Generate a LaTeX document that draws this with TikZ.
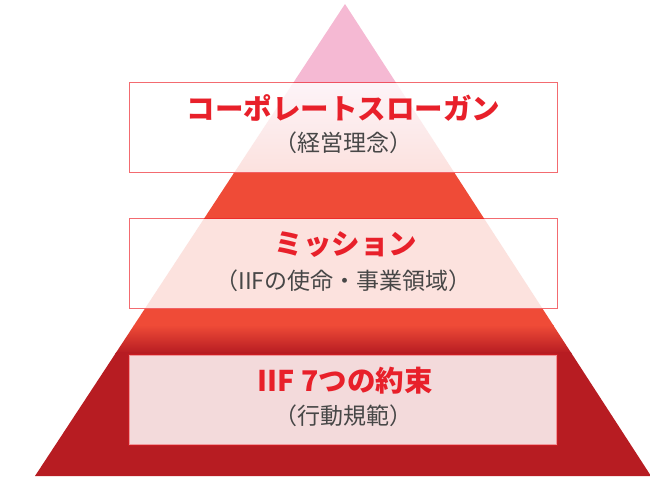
\documentclass[tikz,border=0pt]{standalone}
\usepackage{fontspec}
\newfontfamily\jp{Noto Sans CJK JP}
\definecolor{pyrpink}{HTML}{F5B9D3}
\definecolor{pyrorange}{HTML}{EF4B37}
\definecolor{pyrdark}{HTML}{B71C22}
\definecolor{titlered}{HTML}{E8202A}
\definecolor{subgray}{HTML}{474747}
\definecolor{boxline}{HTML}{ED1C24}
\tikzset{
  tierbox/.style={draw=boxline, draw opacity=0.65, line width=1.3pt, fill=white, fill opacity=0.84,
    minimum width=428pt, minimum height=90pt, inner sep=0pt},
  tiertitle/.style={font=\jp\bfseries\fontsize{28.5}{30}\selectfont, text=titlered, inner sep=0pt},
  tiersub/.style={font=\jp\fontsize{23}{25}\selectfont, text=subgray, inner sep=0pt}
}
\begin{document}
\begin{tikzpicture}[x=1pt,y=-1pt]
\useasboundingbox (0,0) rectangle (650,477);
\begin{scope}
  \clip (345,4) -- (651,476) -- (35,476) -- cycle;
  \fill[pyrpink] (0,0) rectangle (650,86);
  \shade[top color=pyrpink, bottom color=pyrorange] (0,85) rectangle (650,173);
  \fill[pyrorange] (0,172) rectangle (650,326);
  \shade[top color=pyrorange, bottom color=pyrdark] (0,325) rectangle (650,353);
  \fill[pyrdark] (0,352) rectangle (650,477);
\end{scope}
\node[tierbox] (b1) at (343.5,127.5) {};
\node[tierbox] (b2) at (343.5,263.5) {};
\node[tierbox, draw opacity=0.35] (b3) at (343,400) {};
\node[tiertitle] (t1) at (343.5,108) {コーポレートスローガン};
\node[tiersub] (s1) at (343.5,143) {（経営理念）};
\node[tiertitle] (t2) at (346,245) {ミッション};
\node[tiersub] (s2) at (343.5,281) {（IIFの使命・事業領域）};
\node[tiertitle] (t3) at (345,381) {IIF 7つの約束};
\node[tiersub] (s3) at (343,416) {（行動規範）};
\end{tikzpicture}
\end{document}
